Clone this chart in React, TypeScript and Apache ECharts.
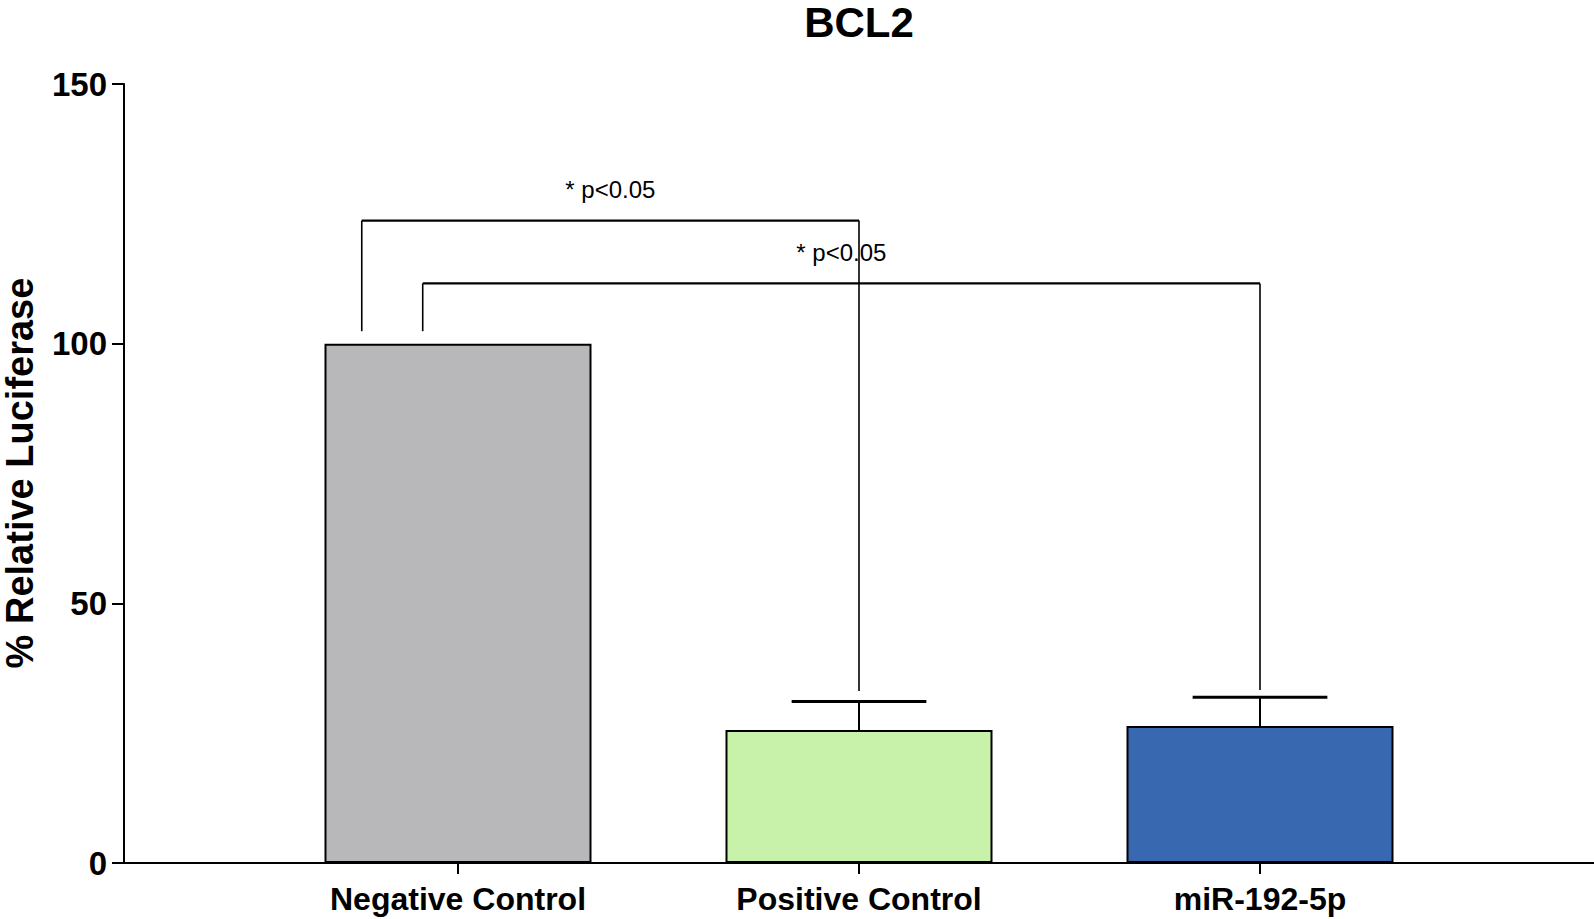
import React, { useEffect, useRef } from "react";
import * as echarts from "echarts";

const FONT = '"Liberation Sans", Arial, Helvetica, sans-serif';

// Data
const categories = ["Negative Control", "Positive Control", "miR-192-5p"];
const meanValues = [100, 25.6, 26.4];
const errorUpper: (number | null)[] = [null, 31.1, 31.9];
const barColors = ["#b8b7ba", "#c8f2aa", "#3868b0"];

const yMin = 0;
const yMax = 150;
const yInterval = 50;

// Significance brackets
const bracketLabels = ["* p<0.05", "* p<0.05"];
const bracketLeftCat = [0, 0];
const bracketLeftOffset = [-0.24, -0.088];
const bracketRightCat = [1, 2];
const bracketY = [123.7, 111.6];
const bracketLeftBottom = [102.4, 102.4];
const bracketRightBottom = [33.1, 33.3];

export default function App() {
  const ref = useRef<HTMLDivElement>(null);

  useEffect(() => {
    if (!ref.current) return;
    const chart = echarts.init(ref.current, undefined, { renderer: "svg" });

    const errorData = errorUpper
      .map((u, i) => (u == null ? null : [i, u, meanValues[i]]))
      .filter((d) => d != null);

    const bracketData = bracketLabels.map((_, i) => [
      bracketLeftCat[i],
      bracketLeftOffset[i],
      bracketRightCat[i],
      bracketY[i],
      bracketLeftBottom[i],
      bracketRightBottom[i],
    ]);

    const option: any = {
      animation: false,
      backgroundColor: "#fff",
      graphic: [
        {
          type: "text",
          x: 859,
          y: 1,
          style: {
            text: "BCL2",
            fontSize: 42,
            lineHeight: 42,
            fontWeight: "bold",
            fontFamily: FONT,
            fill: "#000",
            align: "center",
            verticalAlign: "top",
          },
        },
        {
          type: "text",
          x: 19.5,
          y: 473,
          rotation: Math.PI / 2,
          style: {
            text: "% Relative Luciferase",
            fontSize: 38,
            lineHeight: 38,
            fontWeight: "bold",
            fontFamily: FONT,
            fill: "#000",
            align: "center",
            verticalAlign: "middle",
          },
        },
      ],
      grid: [
        { left: 124, right: 0, top: 84, bottom: 56 },
        { left: 257.5, width: 1203, top: 84, bottom: 56 },
      ],
      xAxis: [
        {
          gridIndex: 0,
          type: "category",
          data: [""],
          axisLine: { show: true, lineStyle: { color: "#000", width: 2 } },
          axisTick: { show: false },
          axisLabel: { show: false },
        },
        {
          gridIndex: 1,
          type: "category",
          data: categories,
          axisLine: { show: false },
          axisTick: {
            show: true,
            alignWithLabel: true,
            length: 11,
            lineStyle: { color: "#000", width: 2 },
          },
          axisLabel: {
            fontSize: 32,
            fontWeight: "bold",
            fontFamily: FONT,
            color: "#000",
            margin: 20,
          },
        },
      ],
      yAxis: [
        {
          gridIndex: 0,
          type: "value",
          min: yMin,
          max: yMax,
          interval: yInterval,
          axisLine: { show: true, lineStyle: { color: "#000", width: 2 } },
          axisTick: { show: true, length: 12, lineStyle: { color: "#000", width: 2 } },
          axisLabel: {
            fontSize: 33,
            fontWeight: "bold",
            fontFamily: FONT,
            color: "#000",
            margin: 17,
          },
          splitLine: { show: false },
        },
        {
          gridIndex: 1,
          type: "value",
          min: yMin,
          max: yMax,
          interval: yInterval,
          show: false,
          splitLine: { show: false },
        },
      ],
      series: [
        {
          type: "bar",
          xAxisIndex: 1,
          yAxisIndex: 1,
          barWidth: 267,
          data: meanValues.map((v, i) => ({
            value: v,
            itemStyle: { color: barColors[i], borderColor: "#000", borderWidth: 2 },
          })),
          z: 2,
        },
        {
          type: "custom",
          xAxisIndex: 1,
          yAxisIndex: 1,
          clip: false,
          z: 3,
          data: errorData,
          renderItem: (params: any, api: any) => {
            const i = api.value(0);
            const top = api.value(1);
            const mean = api.value(2);
            const p0 = api.coord([i, mean]);
            const p1 = api.coord([i, top]);
            const bw = api.size([1, 0])[0];
            const hw = bw * 0.168;
            return {
              type: "group",
              children: [
                {
                  type: "line",
                  shape: { x1: p0[0], y1: p0[1], x2: p1[0], y2: p1[1] },
                  style: { stroke: "#000", lineWidth: 2 },
                },
                {
                  type: "line",
                  shape: { x1: p1[0] - hw, y1: p1[1], x2: p1[0] + hw, y2: p1[1] },
                  style: { stroke: "#000", lineWidth: 3 },
                },
              ],
            };
          },
        },
        {
          type: "custom",
          xAxisIndex: 1,
          yAxisIndex: 1,
          clip: false,
          z: 4,
          data: bracketData,
          renderItem: (params: any, api: any) => {
            const idx = params.dataIndex;
            const lc = api.value(0);
            const off = api.value(1);
            const rc = api.value(2);
            const y = api.value(3);
            const lb = api.value(4);
            const rb = api.value(5);
            const bw = api.size([1, 0])[0];
            const pl = api.coord([lc, y]);
            const pr = api.coord([rc, y]);
            const lx = pl[0] + off * bw;
            const rx = pr[0];
            const yTop = pl[1];
            const yLB = api.coord([lc, lb])[1];
            const yRB = api.coord([rc, rb])[1];
            return {
              type: "group",
              children: [
                {
                  type: "line",
                  shape: { x1: lx, y1: yTop, x2: rx, y2: yTop },
                  style: { stroke: "#000", lineWidth: 2.2 },
                },
                {
                  type: "line",
                  shape: { x1: lx, y1: yTop, x2: lx, y2: yLB },
                  style: { stroke: "#000", lineWidth: 1.6 },
                },
                {
                  type: "line",
                  shape: { x1: rx, y1: yTop, x2: rx, y2: yRB },
                  style: { stroke: "#000", lineWidth: 1.6 },
                },
                {
                  type: "text",
                  x: (lx + rx) / 2,
                  y: yTop - 31,
                  style: {
                    text: bracketLabels[idx],
                    fontSize: 24,
                    fontFamily: FONT,
                    fill: "#000",
                    align: "center",
                    verticalAlign: "middle",
                  },
                },
              ],
            };
          },
        },
      ],
    };

    chart.setOption(option);
    return () => chart.dispose();
  }, []);

  return (
    <div
      ref={ref}
      style={{ position: "fixed", left: 0, top: 0, width: 1594, height: 919, background: "#fff" }}
    />
  );
}
